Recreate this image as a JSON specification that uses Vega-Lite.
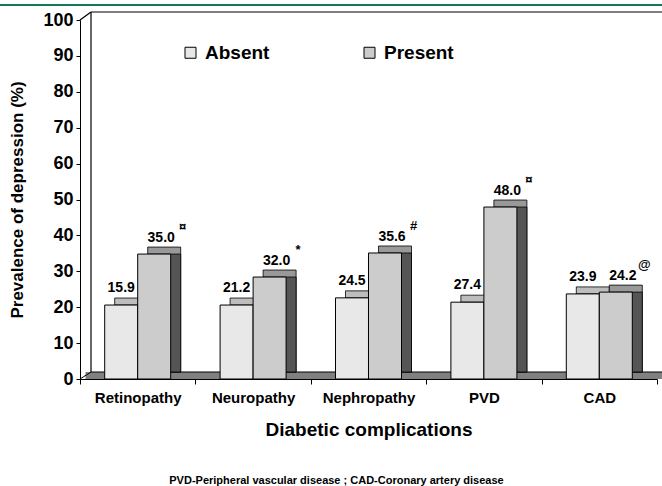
{
  "$schema": "https://vega.github.io/schema/vega-lite/v6.json",
  "width": 577,
  "height": 359,
  "autosize": "none",
  "padding": {"left": 80, "top": 20, "right": 5, "bottom": 107},
  "background": "white",
  "config": {"view": {"stroke": null}, "font": "Liberation Sans", "axis": {"labelOverlap": false}, "axisY": {"labelOverlap": false, "tickCount": 11}, "axisQuantitative": {"tickCount": 11, "labelOverlap": false}},
  "title": {
    "text": "PVD-Peripheral vascular disease ; CAD-Coronary artery disease",
    "orient": "bottom", "anchor": "middle", "dx": -32, "offset": 36,
    "fontSize": 11, "fontWeight": "bold", "font": "Liberation Sans", "color": "black"
  },
  "data": {
    "values": [
      {"complication": "Retinopathy", "group": "Absent", "label": 15.9, "bar": 20.6, "sym": ""},
      {"complication": "Retinopathy", "group": "Present", "label": 35.0, "bar": 34.8, "sym": "¤"},
      {"complication": "Neuropathy", "group": "Absent", "label": 21.2, "bar": 20.6, "sym": ""},
      {"complication": "Neuropathy", "group": "Present", "label": 32.0, "bar": 28.4, "sym": "*"},
      {"complication": "Nephropathy", "group": "Absent", "label": 24.5, "bar": 22.6, "sym": ""},
      {"complication": "Nephropathy", "group": "Present", "label": 35.6, "bar": 35.1, "sym": "#"},
      {"complication": "PVD", "group": "Absent", "label": 27.4, "bar": 21.4, "sym": ""},
      {"complication": "PVD", "group": "Present", "label": 48.0, "bar": 47.9, "sym": "¤"},
      {"complication": "CAD", "group": "Absent", "label": 23.9, "bar": 23.7, "sym": ""},
      {"complication": "CAD", "group": "Present", "label": 24.2, "bar": 24.2, "sym": "@"}
    ]
  },
  "layer": [
    {
      "data": {"values": [{}]},
      "mark": {"type": "rule", "color": "#127b56", "strokeWidth": 2, "yOffset": -15, "xOffset": -80, "x2Offset": 62.7},
      "encoding": {
        "x": {"datum": "Retinopathy", "type": "nominal", "bandPosition": 0},
        "x2": {"datum": "CAD"},
        "y": {"datum": 100, "type": "quantitative"}
      }
    },
    {
      "data": {"values": [{}]},
      "mark": {"type": "rule", "color": "black", "strokeWidth": 1.2, "yOffset": -8, "xOffset": 11, "x2Offset": 70},
      "encoding": {
        "x": {"datum": "Retinopathy", "type": "nominal", "bandPosition": 0},
        "x2": {"datum": "CAD"},
        "y": {"datum": 100, "type": "quantitative"}
      }
    },
    {
      "data": {"values": [{}]},
      "mark": {"type": "rule", "color": "#808080", "strokeWidth": 7, "yOffset": -3.5, "xOffset": 5.5, "x2Offset": 63.2},
      "encoding": {
        "x": {"datum": "Retinopathy", "type": "nominal", "bandPosition": 0},
        "x2": {"datum": "CAD"},
        "y": {"datum": 0, "type": "quantitative"}
      }
    },
    {
      "data": {"values": [{}]},
      "mark": {"type": "rule", "color": "black", "strokeWidth": 1, "yOffset": -7, "xOffset": 11, "x2Offset": 68.7},
      "encoding": {
        "x": {"datum": "Retinopathy", "type": "nominal", "bandPosition": 0},
        "x2": {"datum": "CAD"},
        "y": {"datum": 0, "type": "quantitative"}
      }
    },
    {
      "data": {"values": [{}]},
      "mark": {"type": "rule", "color": "black", "strokeWidth": 1.2, "xOffset": 11, "yOffset": -7, "y2Offset": -8},
      "encoding": {
        "x": {"datum": "Retinopathy", "type": "nominal", "bandPosition": 0},
        "y": {"datum": 0, "type": "quantitative"},
        "y2": {"datum": 100}
      }
    },
    {
      "data": {"values": [{}]},
      "mark": {"type": "rule", "color": "black", "strokeWidth": 1.2, "x2Offset": -46.7, "y2Offset": -8},
      "encoding": {
        "x": {"datum": "Retinopathy", "type": "nominal", "bandPosition": 0},
        "x2": {"datum": "Retinopathy"},
        "y": {"datum": 100, "type": "quantitative"},
        "y2": {"datum": 100}
      }
    },
    {
      "data": {"values": [{}]},
      "mark": {"type": "rule", "color": "black", "strokeWidth": 1, "x2Offset": -46.7, "y2Offset": -7},
      "encoding": {
        "x": {"datum": "Retinopathy", "type": "nominal", "bandPosition": 0},
        "x2": {"datum": "Retinopathy"},
        "y": {"datum": 0, "type": "quantitative"},
        "y2": {"datum": 0}
      }
    },
    {
      "transform": [{"filter": "datum.group === 'Absent'"}],
      "mark": {"type": "bar", "fill": "#bdbdbd", "stroke": "black", "strokeWidth": 0.8, "width": {"band": 0.286}, "xOffset": -6.5, "yOffset": -7, "y2Offset": -7},
      "encoding": {
        "x": {"field": "complication", "type": "nominal", "sort": ["Retinopathy", "Neuropathy", "Nephropathy", "PVD", "CAD"]},
        "y": {"field": "bar", "type": "quantitative"},
        "y2": {"datum": 0}
      }
    },
    {
      "transform": [{"filter": "datum.group === 'Absent'"}],
      "mark": {"type": "bar", "fill": "#555555", "stroke": "black", "strokeWidth": 0.8, "width": {"band": 0.286}, "xOffset": -6.5, "yOffset": 0, "y2Offset": -7},
      "encoding": {
        "x": {"field": "complication", "type": "nominal", "sort": ["Retinopathy", "Neuropathy", "Nephropathy", "PVD", "CAD"]},
        "y": {"field": "bar", "type": "quantitative"},
        "y2": {"datum": 0}
      }
    },
    {
      "transform": [{"filter": "datum.group === 'Present'"}],
      "mark": {"type": "bar", "fill": "#999999", "stroke": "black", "strokeWidth": 0.8, "width": {"band": 0.286}, "xOffset": 26.5, "yOffset": -7, "y2Offset": -7},
      "encoding": {
        "x": {"field": "complication", "type": "nominal", "sort": ["Retinopathy", "Neuropathy", "Nephropathy", "PVD", "CAD"]},
        "y": {"field": "bar", "type": "quantitative"},
        "y2": {"datum": 0}
      }
    },
    {
      "transform": [{"filter": "datum.group === 'Present'"}],
      "mark": {"type": "bar", "fill": "#555555", "stroke": "black", "strokeWidth": 0.8, "width": {"band": 0.286}, "xOffset": 26.5, "yOffset": 0, "y2Offset": -7},
      "encoding": {
        "x": {"field": "complication", "type": "nominal", "sort": ["Retinopathy", "Neuropathy", "Nephropathy", "PVD", "CAD"]},
        "y": {"field": "bar", "type": "quantitative"},
        "y2": {"datum": 0}
      }
    },
    {
      "transform": [{"filter": "datum.group === 'Absent'"}],
      "mark": {"type": "bar", "stroke": "black", "strokeWidth": 1, "width": {"band": 0.286}, "xOffset": -16.5},
      "encoding": {
        "x": {
          "field": "complication", "type": "nominal",
          "sort": ["Retinopathy", "Neuropathy", "Nephropathy", "PVD", "CAD"],
          "scale": {"paddingInner": 0, "paddingOuter": 0},
          "title": "Diabetic complications",
          "axis": {
            "labelAngle": 0, "labelAlign": "center", "tickBand": "extent", "tickSize": 5, "tickColor": "black", "domainColor": "black",
            "labelFont": "Liberation Sans", "labelFontSize": 15, "labelFontWeight": "bold", "labelColor": "black", "labelPadding": 13,
            "titleFont": "Liberation Sans", "titleFontSize": 19, "titleFontWeight": "bold", "titleColor": "black", "titlePadding": 15
          }
        },
        "y": {
          "field": "bar", "type": "quantitative",
          "scale": {"domain": [0, 100], "nice": false},
          "title": "Prevalence of depression (%)",
          "axis": {
            "values": [0, 10, 20, 30, 40, 50, 60, 70, 80, 90, 100], "tickCount": 11, "grid": false, "labelOverlap": false, "labelSeparation": 0,
            "tickSize": 4, "tickColor": "black", "domainColor": "black",
            "labelFont": "Liberation Sans", "labelFontSize": 18, "labelFontWeight": "bold", "labelColor": "black", "labelPadding": 3,
            "titleFont": "Liberation Sans", "titleFontSize": 17, "titleFontWeight": "bold", "titleColor": "black", "titlePadding": 16
          }
        },
        "y2": {"datum": 0},
        "fill": {
          "field": "group", "type": "nominal",
          "scale": {"domain": ["Absent", "Present"], "range": ["#e8e8e8", "#cccccc"]},
          "legend": {
            "orient": "none", "legendX": 101, "legendY": 23, "direction": "horizontal", "title": null,
            "symbolType": "square", "symbolSize": 121, "symbolStrokeColor": "black", "symbolStrokeWidth": 1,
            "labelFont": "Liberation Sans", "labelFontSize": 19, "labelFontWeight": "bold", "labelColor": "black",
            "labelOffset": 5, "columnPadding": 90, "padding": 0
          }
        }
      }
    },
    {
      "transform": [{"filter": "datum.group === 'Present'"}],
      "mark": {"type": "bar", "stroke": "black", "strokeWidth": 1, "width": {"band": 0.286}, "xOffset": 16.5},
      "encoding": {
        "x": {"field": "complication", "type": "nominal", "sort": ["Retinopathy", "Neuropathy", "Nephropathy", "PVD", "CAD"]},
        "y": {"field": "bar", "type": "quantitative"},
        "y2": {"datum": 0},
        "fill": {"field": "group", "type": "nominal"}
      }
    },
    {
      "transform": [{"filter": "datum.group === 'Absent'"}],
      "mark": {"type": "text", "font": "Liberation Sans", "fontSize": 14, "fontWeight": "bold", "color": "black", "baseline": "alphabetic", "dy": -13, "dx": -16.5},
      "encoding": {
        "x": {"field": "complication", "type": "nominal", "sort": ["Retinopathy", "Neuropathy", "Nephropathy", "PVD", "CAD"]},
        "y": {"field": "bar", "type": "quantitative"},
        "text": {"field": "label", "type": "quantitative", "format": ".1f"}
      }
    },
    {
      "transform": [{"filter": "datum.group === 'Present'"}],
      "mark": {"type": "text", "font": "Liberation Sans", "fontSize": 14, "fontWeight": "bold", "color": "black", "baseline": "alphabetic", "dy": -12, "dx": 23.5},
      "encoding": {
        "x": {"field": "complication", "type": "nominal", "sort": ["Retinopathy", "Neuropathy", "Nephropathy", "PVD", "CAD"]},
        "y": {"field": "bar", "type": "quantitative"},
        "text": {"field": "label", "type": "quantitative", "format": ".1f"}
      }
    },
    {
      "transform": [{"filter": "datum.sym !== ''"}],
      "mark": {"type": "text", "font": "Liberation Sans", "fontSize": 13, "fontWeight": "bold", "color": "black", "baseline": "alphabetic", "dy": -23, "dx": 45},
      "encoding": {
        "x": {"field": "complication", "type": "nominal", "sort": ["Retinopathy", "Neuropathy", "Nephropathy", "PVD", "CAD"]},
        "y": {"field": "bar", "type": "quantitative"},
        "text": {"field": "sym"}
      }
    }
  ]
}
